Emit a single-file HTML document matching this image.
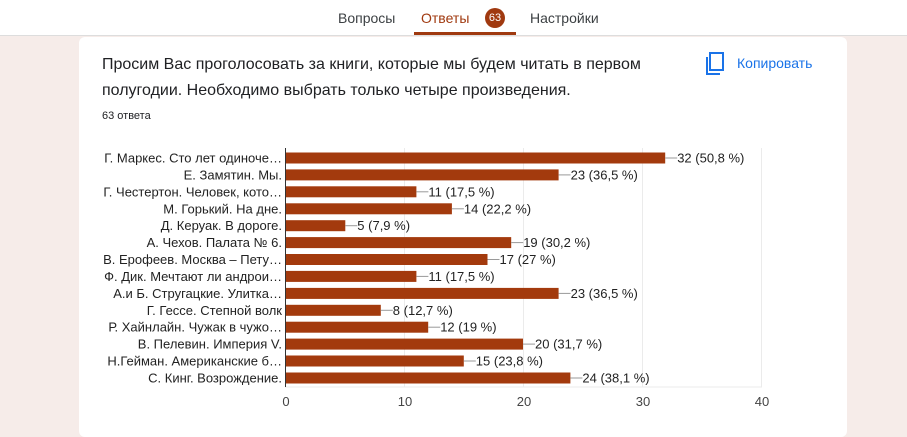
<!DOCTYPE html>
<html><head><meta charset="utf-8"><style>
body{margin:0;width:907px;height:425px;background:#f6ece9;font-family:"Liberation Sans",Arial,sans-serif;overflow:hidden;position:relative}
.hdr{position:absolute;left:0;top:0;width:907px;height:35px;background:#fff;border-bottom:1px solid #ddd}
.tab{position:absolute;top:10px;font-size:14px;color:#3c4043}
.card{position:absolute;left:79px;top:37px;width:768px;height:400px;background:#fff;border-radius:6px}
.q{position:absolute;left:102px;top:52px;font-size:16px;line-height:26px;color:#202124}
</style></head><body>
<div class="hdr">
<div class="tab" style="left:338px">Вопросы</div>
<div class="tab" style="left:421px;color:#a0390f">Ответы</div>
<div style="position:absolute;left:485px;top:8px;width:20px;height:20px;border-radius:50%;background:#a0390f;color:#fff;font-size:11px;text-align:center;line-height:20px">63</div>
<div class="tab" style="left:530px">Настройки</div>
<div style="position:absolute;left:414px;top:32px;width:102px;height:3px;background:#a0390f"></div>
</div>
<div class="card"></div>
<div class="q">Просим Вас проголосовать за книги, которые мы будем читать в первом<br>полугодии. Необходимо выбрать только четыре произведения.</div>
<div style="position:absolute;left:102px;top:110px;font-size:11px;color:#202124">63 ответа</div>
<svg style="position:absolute;left:705px;top:52px" width="20" height="24"><rect x="5" y="1" width="13" height="17" fill="none" stroke="#1a73e8" stroke-width="2"/><path d="M2 5V22H15" fill="none" stroke="#1a73e8" stroke-width="2"/></svg>
<div style="position:absolute;left:737px;top:55px;font-size:14px;color:#1a73e8">Копировать</div>
<svg style="position:absolute;left:0;top:0" width="907" height="425" font-family="Liberation Sans, Arial, sans-serif" font-size="13">
<g stroke="#ebebeb"><line x1="404.5" y1="148" x2="404.5" y2="387"/><line x1="523.5" y1="148" x2="523.5" y2="387"/><line x1="642.5" y1="148" x2="642.5" y2="387"/><line x1="761.5" y1="148" x2="761.5" y2="387"/></g>
<line x1="285" y1="387" x2="762" y2="387" stroke="#ebebeb"/>
<g fill="#a33a0d">
<rect x="286" y="152.5" width="379.2" height="11"/>
<rect x="286" y="169.4" width="272.6" height="11"/>
<rect x="286" y="186.3" width="130.4" height="11"/>
<rect x="286" y="203.3" width="165.9" height="11"/>
<rect x="286" y="220.2" width="59.3" height="11"/>
<rect x="286" y="237.1" width="225.2" height="11"/>
<rect x="286" y="254.0" width="201.5" height="11"/>
<rect x="286" y="270.9" width="130.4" height="11"/>
<rect x="286" y="287.9" width="272.6" height="11"/>
<rect x="286" y="304.8" width="94.8" height="11"/>
<rect x="286" y="321.7" width="142.2" height="11"/>
<rect x="286" y="338.6" width="237" height="11"/>
<rect x="286" y="355.5" width="177.8" height="11"/>
<rect x="286" y="372.5" width="284.4" height="11"/>
</g>
<g stroke="#999">
<line x1="665.2" y1="158" x2="677.2" y2="158"/>
<line x1="558.6" y1="174.9" x2="570.6" y2="174.9"/>
<line x1="416.4" y1="191.8" x2="428.4" y2="191.8"/>
<line x1="451.9" y1="208.8" x2="463.9" y2="208.8"/>
<line x1="345.3" y1="225.7" x2="357.3" y2="225.7"/>
<line x1="511.2" y1="242.6" x2="523.2" y2="242.6"/>
<line x1="487.5" y1="259.5" x2="499.5" y2="259.5"/>
<line x1="416.4" y1="276.4" x2="428.4" y2="276.4"/>
<line x1="558.6" y1="293.4" x2="570.6" y2="293.4"/>
<line x1="380.8" y1="310.3" x2="392.8" y2="310.3"/>
<line x1="428.2" y1="327.2" x2="440.2" y2="327.2"/>
<line x1="523" y1="344.1" x2="535" y2="344.1"/>
<line x1="463.8" y1="361" x2="475.8" y2="361"/>
<line x1="570.4" y1="378" x2="582.4" y2="378"/>
</g>
<g fill="#222" text-anchor="end">
<text x="282" y="162.5">Г. Маркес. Сто лет одиноче…</text>
<text x="282" y="179.4">Е. Замятин. Мы.</text>
<text x="282" y="196.3">Г. Честертон. Человек, кото…</text>
<text x="282" y="213.3">М. Горький. На дне.</text>
<text x="282" y="230.2">Д. Керуак. В дороге.</text>
<text x="282" y="247.1">А. Чехов. Палата № 6.</text>
<text x="282" y="264">В. Ерофеев. Москва – Пету…</text>
<text x="282" y="280.9">Ф. Дик. Мечтают ли андрои…</text>
<text x="282" y="297.9">А.и Б. Стругацкие. Улитка…</text>
<text x="282" y="314.8">Г. Гессе. Степной волк</text>
<text x="282" y="331.7">Р. Хайнлайн. Чужак в чужо…</text>
<text x="282" y="348.6">В. Пелевин. Империя V.</text>
<text x="282" y="365.5">Н.Гейман. Американские б…</text>
<text x="282" y="382.5">С. Кинг. Возрождение.</text>
</g>
<g fill="#222">
<text x="677.2" y="162.5">32 (50,8 %)</text>
<text x="570.6" y="179.4">23 (36,5 %)</text>
<text x="428.4" y="196.3">11 (17,5 %)</text>
<text x="463.9" y="213.3">14 (22,2 %)</text>
<text x="357.3" y="230.2">5 (7,9 %)</text>
<text x="523.2" y="247.1">19 (30,2 %)</text>
<text x="499.5" y="264">17 (27 %)</text>
<text x="428.4" y="280.9">11 (17,5 %)</text>
<text x="570.6" y="297.9">23 (36,5 %)</text>
<text x="392.8" y="314.8">8 (12,7 %)</text>
<text x="440.2" y="331.7">12 (19 %)</text>
<text x="535" y="348.6">20 (31,7 %)</text>
<text x="475.8" y="365.5">15 (23,8 %)</text>
<text x="582.4" y="382.5">24 (38,1 %)</text>
</g>
<line x1="285.5" y1="148" x2="285.5" y2="387" stroke="#333"/>
<g fill="#444" text-anchor="middle"><text x="286" y="406">0</text><text x="405" y="406">10</text><text x="524" y="406">20</text><text x="643" y="406">30</text><text x="762" y="406">40</text></g>
</svg>
</body></html>
